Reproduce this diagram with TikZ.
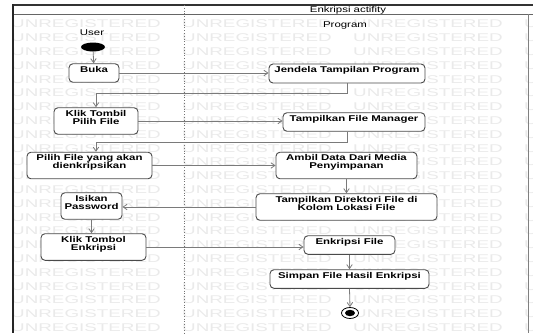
\documentclass[tikz,border=0pt]{standalone}
\usepackage{fontspec}
\setmainfont[FakeStretch=1.36]{Liberation Sans}
\newfontfamily\wmfont[FakeStretch=1.68]{Liberation Sans}
\usetikzlibrary{arrows.meta,shapes.geometric}
\definecolor{boxline}{HTML}{4A4A4A}
\definecolor{flowline}{HTML}{7A7A7A}
\definecolor{wmgray}{HTML}{EAEAEA}

\begin{document}
\begin{tikzpicture}[x=1pt,y=-1pt,line cap=butt,line join=miter,>={Straight Barb[length=4pt,width=5.5pt]},font=\fontsize{8.4}{8}\selectfont]
		\tikzset{aksi/.style={draw=boxline,line width=0.9pt,fill=white,rounded corners=4pt,align=center,
				font=\fontsize{8.4}{8}\selectfont\bfseries,inner xsep=2pt,inner ysep=2.5pt,text depth=7.5pt},
			alur/.style={draw=flowline,line width=0.8pt,->},
			tanda/.style={inner sep=0pt,text=black}}
		\useasboundingbox (0,0) rectangle (533,333);
		\fill[white] (0,0) rectangle (533,333);
		%--------- Watermark
		\begin{scope}
			\clip (13,14) rectangle (533,333);
			\foreach \r in {0,...,22}
			\foreach \c in {0,...,3}
			\node[anchor=west,inner sep=0pt,text=wmgray,font=\wmfont\fontsize{11.2}{11.2}\selectfont] (wm-\r-\c) at ({11+171*\c},{24+13.8*\r}) {UNREGISTERED};
		\end{scope}
		%--------- Bingkai
		\draw[line width=1.2pt,black!80] (13,5) -- (533,5);
		\draw[line width=0.6pt,black!60] (13,14) -- (533,14);
		\draw[line width=1.6pt,black!85] (13,4.4) -- (13,333);
		\draw[line width=0.6pt,black!50] (528,14) -- (528,333);
		\draw[black!55,dotted,line width=0.8pt] (184,5) -- (184,333);
		\node[tanda] (judul) at (348,10) {Enkripsi actifity};
		\node[tanda] (user) at (92,33) {User};
		\node[tanda] (program) at (345,25) {Program};
		%--------- User
		\node[ellipse,fill=black,minimum width=24pt,minimum height=9pt,inner sep=0pt] (mulai) at (93,47) {};
		\node[aksi,minimum width=50pt,minimum height=18pt] (buka) at (94,73) {Buka};
		\node[aksi,minimum width=84pt,minimum height=24pt] (klik1) at (96,121) {Klik Tombil\\Pilih File};
		\node[aksi,minimum width=125pt,minimum height=25pt] (pilih) at (89.5,165.5) {Pilih File yang akan\\dienkripsikan};
		\node[aksi,minimum width=61pt,minimum height=24pt] (isikan) at (91.5,206) {Isikan\\Password};
		\node[aksi,minimum width=105pt,minimum height=24pt] (klik2) at (93.5,247) {Klik Tombol\\Enkripsi};
		%--------- Program
		\node[aksi,minimum width=156pt,minimum height=19pt] (jendela) at (347,73.5) {Jendela Tampilan Program};
		\node[aksi,minimum width=142pt,minimum height=18pt] (tfm) at (354,122) {Tampilkan File Manager};
		\node[aksi,minimum width=141pt,minimum height=23pt] (ambil) at (346.5,165.5) {Ambil Data Dari Media\\Penyimpanan};
		\node[aksi,minimum width=181pt,minimum height=24pt] (tdir) at (346.5,207) {Tampilkan Direktori File di\\Kolom Lokasi File};
		\node[aksi,minimum width=91pt,minimum height=18pt] (enk) at (349.5,245) {Enkripsi File};
		\node[aksi,minimum width=159pt,minimum height=18pt] (simpan) at (349.5,279) {Simpan File Hasil Enkripsi};
		\node[ellipse,draw=black,line width=0.8pt,fill=white,minimum width=17pt,minimum height=11pt,inner sep=0pt,
			path picture={\fill[black] (path picture bounding box.center) ellipse (5pt and 3.2pt);}] (selesai) at (350,313) {};
		%--------- Alur
		\draw[alur] (mulai) -- (buka);
		\draw[alur] (buka.east) -- (buka.east -| jendela.west);
		\draw[alur] (jendela.south) -- ++(0,10) -| (klik1.north);
		\draw[alur] (klik1.east) -- (klik1.east -| tfm.west);
		\draw[alur] (jendela.south |- tfm.south) -- ++(0,11) -| (klik1.south |- pilih.north);
		\draw[alur] (pilih.east) -- (pilih.east -| ambil.west);
		\draw[alur] (ambil.south) -- (tdir.north);
		\draw[alur] (tdir.west) -- (tdir.west -| isikan.east);
		\draw[alur] (isikan.south) -- (isikan.south |- klik2.north);
		\draw[alur] (klik2.east) -- (klik2.east -| enk.west);
		\draw[alur] (enk.south) -- (simpan.north);
		\draw[alur] (simpan.south) -- (selesai.north);
	\end{tikzpicture}
\end{document}
